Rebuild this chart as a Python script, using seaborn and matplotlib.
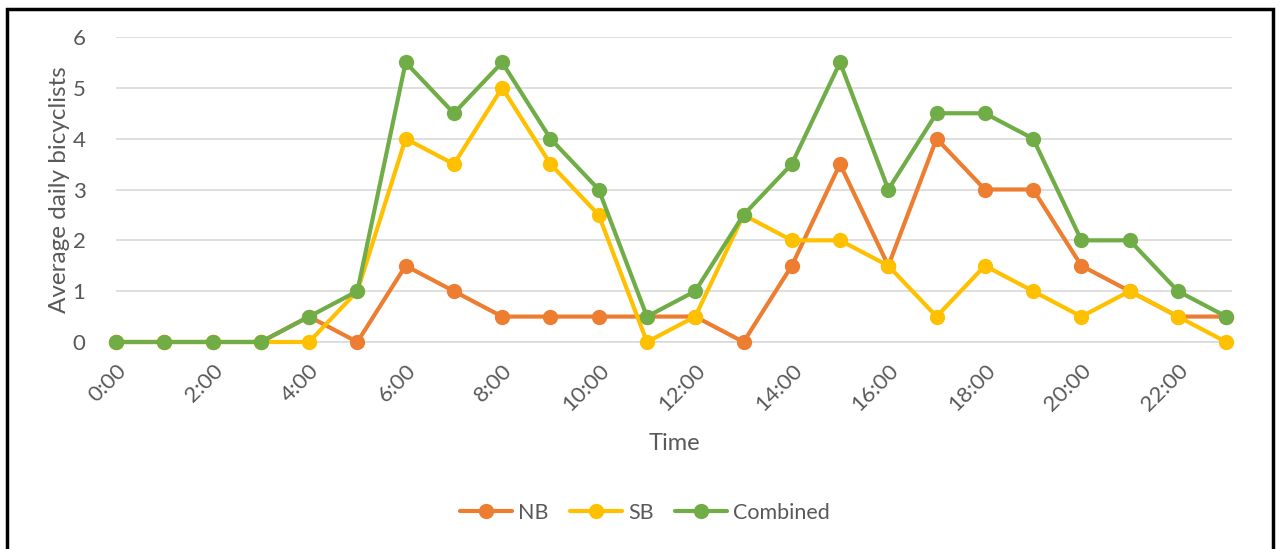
import seaborn as sns
import matplotlib.pyplot as plt
import pandas as pd
from matplotlib.patches import Rectangle

# average daily bicyclists per hour, by direction
hours = list(range(24))
nb = [0, 0, 0, 0, 0.5, 0, 1.5, 1, 0.5, 0.5, 0.5, 0.5, 0.5, 0, 1.5, 3.5, 1.5, 4, 3, 3, 1.5, 1, 0.5, 0.5]
sb = [0, 0, 0, 0, 0, 1, 4, 3.5, 5, 3.5, 2.5, 0, 0.5, 2.5, 2, 2, 1.5, 0.5, 1.5, 1, 0.5, 1, 0.5, 0]
combined = [0, 0, 0, 0, 0.5, 1, 5.5, 4.5, 5.5, 4, 3, 0.5, 1, 2.5, 3.5, 5.5, 3, 4.5, 4.5, 4, 2, 2, 1, 0.5]
tick_labels = [f"{h}:00" if h % 2 == 0 else "" for h in hours]

df = pd.DataFrame({"hour": hours, "NB": nb, "SB": sb, "Combined": combined})
long = df.melt(id_vars="hour", var_name="dir", value_name="riders")

sns.set_style("white")
plt.rcParams["font.family"] = ["Lato", "DejaVu Sans"]
grey = "#595959"

fig = plt.figure(figsize=(12.8, 5.49), dpi=100)
ax = fig.add_axes([116 / 1280, 1 - 342 / 549, (1232 - 116) / 1280, 305 / 549])

palette = {"NB": "#ED7D31", "SB": "#FFC000", "Combined": "#70AD47"}
sns.lineplot(data=long, x="hour", y="riders", hue="dir", palette=palette,
             marker="o", markersize=11, markeredgewidth=0, linewidth=3,
             ax=ax, legend=True, clip_on=False, zorder=3)

ax.set_xlim(0, 23.12)
ax.set_ylim(0, 6)
ax.set_yticks(range(7))
ax.yaxis.grid(True, color="#D9D9D9", linewidth=1.2)
ax.set_axisbelow(True)
for s in ["top", "right", "left"]:
    ax.spines[s].set_visible(False)
ax.spines["bottom"].set_color("#D9D9D9")
ax.spines["bottom"].set_linewidth(1.2)

ax.set_xticks(hours)
ax.set_xticklabels(tick_labels, rotation=45, ha="right", rotation_mode="anchor")
ax.tick_params(axis="x", length=7, width=1.2, color="#D9D9D9", labelsize=16,
               labelcolor=grey, pad=6)
ax.tick_params(axis="y", length=0, labelsize=16, labelcolor=grey, pad=22)

ax.set_xlabel("Time", fontsize=17, color=grey, labelpad=13)
ax.set_ylabel("Average daily bicyclists", fontsize=17.5, color=grey, labelpad=2)

handles, labels = ax.get_legend_handles_labels()
ax.legend(handles, labels, loc="center", bbox_to_anchor=(645 / 1280, 1 - 513 / 549),
          bbox_transform=fig.transFigure, ncol=3, frameon=False, fontsize=15.5,
          handlelength=2.4, columnspacing=1.0, handletextpad=0.3, labelcolor=grey)

# chart frame
fig.patches.append(Rectangle((7 / 1280, -0.05), (1273 - 7) / 1280, 1.05 - 9 / 549,
                             transform=fig.transFigure, fill=False,
                             edgecolor="black", linewidth=2.5))

fig.savefig("out.png", dpi=100)
